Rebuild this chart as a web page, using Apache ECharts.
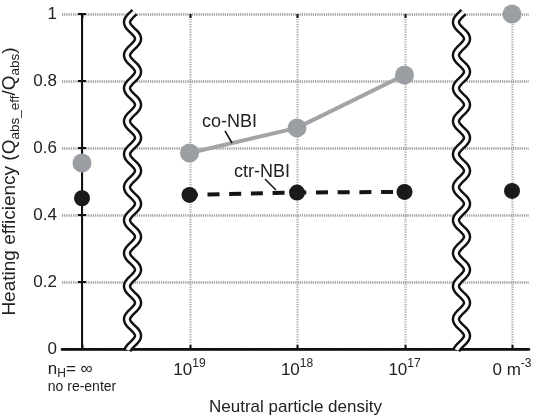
<!DOCTYPE html>
<html>
<head>
<meta charset="utf-8">
<script src="https://cdn.jsdelivr.net/npm/echarts@6/dist/echarts.min.js"></script>
<style>
html,body{margin:0;padding:0;background:#fff;}
#c{width:535px;height:416px;}
</style>
</head>
<body>
<div id="c"></div>
<script>
// ---- data ----
const xPositions = [0, 1, 2, 3, 4];
const tickLabels = [
  '{b|n}{sub|H}{b|= ∞}\n{s|no re-enter}',
  '{b|10}{sup|19}',
  '{b|10}{sup|18}',
  '{b|10}{sup|17}',
  '{b|0 m}{sup|-3}'
];
const coNBI = [0.555, 0.585, 0.66, 0.818, 1.0];
const ctrNBI = [0.45, 0.46, 0.467, 0.469, 0.472];
const connectedIdx = [1, 2, 3];
const breakPositions = [0.47, 3.53];

const FONT = 'Liberation Sans, Arial, sans-serif';
const chart = echarts.init(document.getElementById('c'), null, {renderer: 'canvas'});

const pts = (arr, idx) => idx.map(i => [xPositions[i], arr[i]]);
const allIdx = xPositions.map((_, i) => i);

const xMin = -0.186, xMax = 4.158;
const dotted = {color: '#9a9a9a', width: 2.5, type: [1.2, 1]};

const option = {
  animation: false,
  grid: {left: 62, right: 6, top: 14, bottom: 67, containLabel: false, outerBoundsMode: 'none'},
  xAxis: [{
    type: 'value', min: xMin, max: xMax, position: 'bottom',
    name: 'Neutral particle density', nameLocation: 'middle', nameGap: 42,
    nameTextStyle: {fontFamily: FONT, fontSize: 17, color: '#222'},
    axisLine: {lineStyle: {color: '#111', width: 2}},
    axisTick: {show: false},
    axisLabel: {
      customValues: xPositions, margin: 9,
      formatter: v => tickLabels[Math.round(v)],
      rich: {
        b: {fontFamily: FONT, fontSize: 17, color: '#222', align: 'left'},
        sup: {fontFamily: FONT, fontSize: 12, color: '#222', padding: [0, 0, 12, 0], align: 'left'},
        sub: {fontFamily: FONT, fontSize: 12, color: '#222', padding: [10, 0, 0, 0], align: 'left'},
        s: {fontFamily: FONT, fontSize: 14, color: '#222', align: 'left'}
      }
    },
    splitLine: {show: false}
  }, {
    type: 'value', min: xMin, max: xMax, position: 'top',
    axisLine: {lineStyle: {color: '#111', width: 2.5}},
    axisTick: {show: false},
    axisLabel: {show: false},
    splitLine: {show: false}
  }],
  yAxis: [{
    type: 'value', min: 0, max: 1, interval: 0.2, position: 'left',
    name: '{t|Heating efficiency (Q}{s|abs_eff}{t|/Q}{s|abs}{t|)}',
    nameLocation: 'middle', nameGap: 34, nameRotate: 90,
    nameTextStyle: {
      rich: {
        t: {fontFamily: FONT, fontSize: 19, color: '#222'},
        s: {fontFamily: FONT, fontSize: 13.5, color: '#222', padding: [11, 0, 0, 0]}
      }
    },
    axisLine: {show: true, lineStyle: {color: '#111', width: 2}},
    axisTick: {inside: true, length: 4, lineStyle: {color: '#111', width: 2}},
    axisLabel: {fontFamily: FONT, fontSize: 17, color: '#222', margin: 5},
    splitLine: {show: true, lineStyle: dotted}
  }, {
    type: 'value', min: 0, max: 1, interval: 0.2, position: 'right',
    axisLine: {show: true, lineStyle: {color: '#111', width: 2}},
    axisTick: {inside: true, length: 4, lineStyle: {color: '#111', width: 2}},
    axisLabel: {show: false},
    splitLine: {show: false}
  }],
  series: [
    {
      name: 'co-NBI line', type: 'line', z: 3, symbol: 'none',
      data: pts(coNBI, connectedIdx),
      lineStyle: {color: '#a2a5a8', width: 4}
    },
    {
      name: 'ctr-NBI line', type: 'line', z: 3, symbol: 'none',
      data: pts(ctrNBI, connectedIdx),
      lineStyle: {color: '#151515', width: 4, type: [12, 9.7], dashOffset: 3.7}
    },
    {
      name: 'co-NBI', type: 'scatter', z: 4, symbolSize: 19,
      data: pts(coNBI, allIdx),
      itemStyle: {color: '#9b9fa3', opacity: 1}
    },
    {
      name: 'ctr-NBI', type: 'scatter', z: 4, symbolSize: 16,
      data: pts(ctrNBI, allIdx),
      itemStyle: {color: '#1a1a1a', opacity: 1}
    }
  ]
};
chart.setOption(option);

// vertical dotted grid lines, inward ticks, break marks and annotations
const topPx = chart.convertToPixel({yAxisIndex: 0}, 1);
const botPx = chart.convertToPixel({yAxisIndex: 0}, 0);
const graphics = [];
xPositions.forEach(v => {
  const x = Math.round(chart.convertToPixel({xAxisIndex: 0}, v)) + 0.5;
  graphics.push({type: 'line', z: -1, silent: true, shape: {x1: x, y1: topPx, x2: x, y2: botPx},
    style: {stroke: '#b0b0b0', lineWidth: 2.2, lineDash: [1.2, 1.3]}});
  graphics.push({type: 'line', z: 1, silent: true, shape: {x1: x, y1: botPx, x2: x, y2: botPx - 4},
    style: {stroke: '#111', lineWidth: 2}});
  graphics.push({type: 'line', z: 1, silent: true, shape: {x1: x, y1: topPx, x2: x, y2: topPx + 4},
    style: {stroke: '#111', lineWidth: 2}});
});
function wave(cx, top, bottom) {
  const p = [];
  const period = 33, amp = 5.5;
  for (let y = top - 2; y <= bottom + 1; y += 1) {
    p.push([cx + amp * Math.sin(2 * Math.PI * (y - top) / period + Math.PI), y]);
  }
  return p;
}
breakPositions.forEach(b => {
  const cx = chart.convertToPixel({xAxisIndex: 0}, b);
  const pl = wave(cx, topPx, botPx);
  graphics.push({type: 'polyline', z: 50, shape: {points: pl}, style: {stroke: '#111', lineWidth: 8.5, fill: null}});
  graphics.push({type: 'polyline', z: 51, shape: {points: pl}, style: {stroke: '#fff', lineWidth: 3.6, fill: null}});
});
graphics.push(
  {type: 'text', z: 60, style: {text: 'co-NBI', x: 202, y: 122, font: '18px ' + FONT, fill: '#222', verticalAlign: 'middle'}},
  {type: 'line', z: 60, shape: {x1: 225, y1: 131, x2: 232, y2: 143}, style: {stroke: '#111', lineWidth: 1.5}},
  {type: 'text', z: 60, style: {text: 'ctr-NBI', x: 234, y: 172, font: '18px ' + FONT, fill: '#222', verticalAlign: 'middle'}},
  {type: 'line', z: 60, shape: {x1: 265, y1: 179, x2: 276, y2: 190}, style: {stroke: '#111', lineWidth: 1.5}}
);
chart.setOption({graphic: graphics});
</script>
</body>
</html>
